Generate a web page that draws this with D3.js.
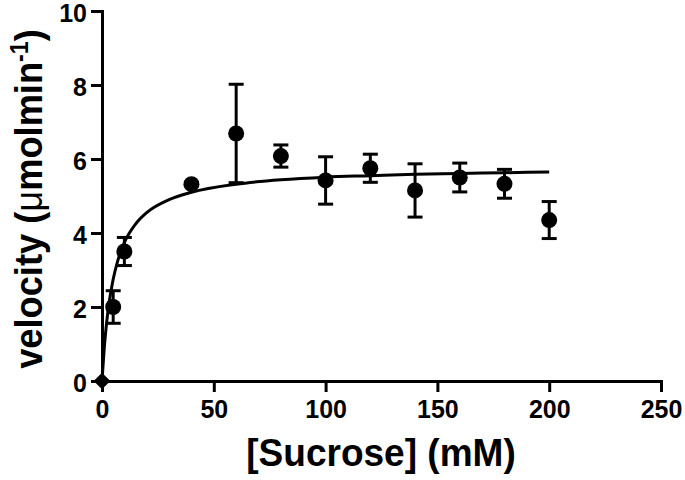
<!DOCTYPE html>
<html>
<head>
<meta charset="utf-8">
<script src="https://cdn.jsdelivr.net/npm/d3@7"></script>
<style>
  html, body { margin: 0; padding: 0; background: #fff; }
  svg { display: block; }
  text { font-family: "Liberation Sans", Arial, Helvetica, sans-serif; font-weight: bold; fill: #000; }
</style>
</head>
<body>
<svg id="chart" width="685" height="480"></svg>
<script>
// ---- data ----
const sucrose  = [0, 5, 10, 40, 60, 80, 100, 120, 140, 160, 180, 200];
const velocity = [0, 2.0, 3.5, 5.32, 6.69, 6.08, 5.42, 5.75, 5.15, 5.5, 5.33, 4.35];
const sem      = [0, 0.44, 0.38, 0.05, 1.33, 0.3, 0.64, 0.38, 0.72, 0.39, 0.39, 0.5];
// fitted curve
const fitX = [0, 1, 2, 3, 5, 7, 10, 15, 20, 30, 40, 60, 80, 100, 120, 140, 160, 180, 200];
const fitY = [0, 0.89, 1.54, 2.04, 2.75, 3.24, 3.74, 4.24, 4.55, 4.90, 5.10, 5.32, 5.44, 5.51, 5.55, 5.59, 5.61, 5.63, 5.65];
const xTicks = [0, 50, 100, 150, 200, 250];
const yTicks = [0, 2, 4, 6, 8, 10];
const xTitle = "[Sucrose] (mM)";

// ---- layout ----
const svg = d3.select("#chart");
const x = d3.scaleLinear().domain([0, 250]).range([102, 661]);
const y = d3.scaleLinear().domain([0, 10]).range([381, 11]);
const SW = 3;

// axes
const xAxis = svg.append("g").attr("transform", `translate(0,${y(0)})`)
  .call(d3.axisBottom(x).tickValues(xTicks).tickSize(11).tickSizeOuter(0).tickFormat(d3.format("d")));
const yAxis = svg.append("g").attr("transform", `translate(${x(0)},0)`)
  .call(d3.axisLeft(y).tickValues(yTicks).tickSize(11).tickSizeOuter(0).tickFormat(d3.format("d")));
[xAxis, yAxis].forEach(g => {
  g.select(".domain").attr("stroke", "#000").attr("stroke-width", SW).attr("stroke-linecap", "square");
  g.selectAll(".tick line").attr("stroke", "#000").attr("stroke-width", SW);
  g.selectAll(".tick text").attr("font-size", 26).attr("font-family", null).attr("fill", "#000");
});
xAxis.selectAll(".tick text").attr("y", 19).attr("dy", "0.71em")
  .attr("transform", "scale(0.96,1)");
yAxis.selectAll(".tick text").attr("text-anchor", "end").attr("x", 0).attr("dy", "0.4em")
  .attr("transform", "translate(-15,0) scale(0.96,1)");

// fitted curve
const line = d3.line().x((d, i) => x(fitX[i])).y(d => y(d)).curve(d3.curveMonotoneX);
svg.append("path").datum(fitY).attr("d", line)
  .attr("fill", "none").attr("stroke", "#000").attr("stroke-width", SW);

// error bars
const pts = sucrose.map((s, i) => ({ s, v: velocity[i], e: sem[i] }));
const eb = svg.append("g").attr("stroke", "#000").attr("stroke-width", SW);
pts.filter(d => d.e > 0).forEach(d => {
  const cx = x(d.s), hw = 7.5;
  eb.append("line").attr("x1", cx).attr("x2", cx).attr("y1", y(d.v - d.e)).attr("y2", y(d.v + d.e));
  eb.append("line").attr("x1", cx - hw).attr("x2", cx + hw).attr("y1", y(d.v + d.e)).attr("y2", y(d.v + d.e));
  eb.append("line").attr("x1", cx - hw).attr("x2", cx + hw).attr("y1", y(d.v - d.e)).attr("y2", y(d.v - d.e));
});

// markers
svg.append("g").selectAll("circle").data(pts.filter(d => d.s > 0)).join("circle")
  .attr("cx", d => x(d.s)).attr("cy", d => y(d.v)).attr("r", 8).attr("fill", "#000");
svg.append("path").datum(pts[0])
  .attr("d", d3.symbol(d3.symbolSquare, 140)())
  .attr("transform", d => `translate(${x(d.s)},${y(d.v)}) rotate(45)`)
  .attr("fill", "#000");

// axis titles
svg.append("g").attr("transform", "translate(381,466) scale(0.95,1)")
  .append("text").attr("text-anchor", "middle").attr("font-size", 39).text(xTitle);

const yt = svg.append("g").attr("transform", "translate(42,199) rotate(-90) scale(0.93,1)")
  .append("text").attr("text-anchor", "middle").attr("font-size", 39);
yt.append("tspan").text("velocity (");
yt.append("tspan").attr("font-weight", "normal").text("μ");
yt.append("tspan").text("molmin");
yt.append("tspan").attr("font-size", 25).attr("dy", -14).text("-1");
yt.append("tspan").attr("dy", 14).text(")");
</script>
</body>
</html>
